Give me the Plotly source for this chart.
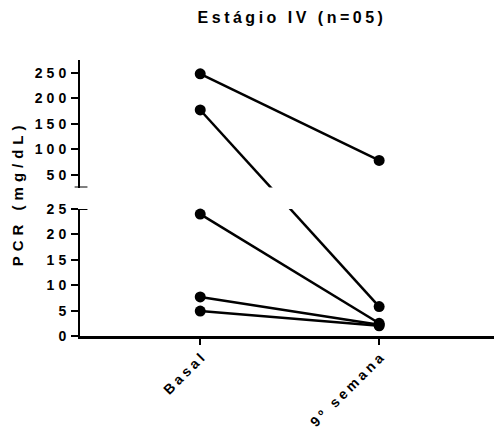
import plotly.graph_objects as go

# ---- data ----
categories = ["Basal", "9º semana"]
basal = [248, 177, 24, 7.7, 4.9]
semana9 = [78, 5.8, 2.5, 2.2, 2.0]
upper_ticks = [50, 100, 150, 200, 250]
lower_ticks = [0, 5, 10, 15, 20, 25]
title_text = "Estágio IV (n=05)"
ytitle_text = "PCR (mg/dL)"

# ---- axis geometry (broken y axis) ----
UPPER_DOMAIN = [0.538, 1.0]
UPPER_RANGE = [25, 275]
LOWER_DOMAIN = [0.0, 0.4601]
LOWER_RANGE = [0, 25]
AXES = {"upper": (UPPER_DOMAIN, UPPER_RANGE, "y"), "lower": (LOWER_DOMAIN, LOWER_RANGE, "y2")}


def to_frac(v, panel):
    d, r, _ = AXES[panel]
    return d[0] + (v - r[0]) / (r[1] - r[0]) * (d[1] - d[0])


def from_frac(f, panel):
    d, r, _ = AXES[panel]
    return r[0] + (f - d[0]) / (d[1] - d[0]) * (r[1] - r[0])


def panel_of(v):
    return "upper" if v > LOWER_RANGE[1] else "lower"


FONT = "Liberation Sans, Arial, Helvetica, sans-serif"
fig = go.Figure()

# lines (drawn in each panel, clipped by the panel area -> gap at the break)
for b, s in zip(basal, semana9):
    fb = to_frac(b, panel_of(b))
    fs = to_frac(s, panel_of(s))
    for panel in ("upper", "lower"):
        d, r, yref = AXES[panel]
        lo, hi = min(fb, fs), max(fb, fs)
        if hi < d[0] or lo > d[1]:
            continue
        fig.add_trace(go.Scatter(
            x=categories, y=[from_frac(fb, panel), from_frac(fs, panel)],
            mode="lines", line=dict(color="black", width=2.5),
            xaxis="x", yaxis=yref, showlegend=False, hoverinfo="skip"))

# markers
for panel in ("upper", "lower"):
    _, _, yref = AXES[panel]
    xs, ys = [], []
    for b, s in zip(basal, semana9):
        for cat, v in zip(categories, (b, s)):
            if panel_of(v) == panel:
                xs.append(cat)
                ys.append(v)
    fig.add_trace(go.Scatter(
        x=xs, y=ys, mode="markers", marker=dict(color="black", size=11),
        xaxis="x", yaxis=yref, showlegend=False, cliponaxis=False))

axis_common = dict(showline=True, linecolor="black", linewidth=2, ticks="outside",
                   tickcolor="black", tickwidth=2, showgrid=False, zeroline=False,
                   tickfont=dict(family=FONT, size=14, color="black", weight="bold"))

fig.update_layout(
    width=494, height=431,
    margin=dict(l=80, r=0, t=60, b=95),
    plot_bgcolor="white", paper_bgcolor="white",
    title=dict(text=title_text, x=292 / 494, y=1 - 17 / 431, xanchor="center", yanchor="middle",
               font=dict(family=FONT, size=16, color="black", weight="bold")),
    xaxis=dict(type="category", categoryarray=categories, range=[-0.672, 1.642],
               anchor="y2", domain=[0, 1], ticklen=6, tickangle=-45, linewidth=2.5,
               **{k: v for k, v in axis_common.items() if k != "linewidth"}),
    yaxis=dict(domain=UPPER_DOMAIN, range=UPPER_RANGE, tickvals=upper_ticks, anchor="x",
               ticklen=7, **axis_common),
    yaxis2=dict(domain=LOWER_DOMAIN, range=LOWER_RANGE, tickvals=lower_ticks, anchor="x",
                ticklen=7, **axis_common),
    annotations=[dict(text=ytitle_text, xref="paper", yref="paper", x=-0.151, y=0.517,
                      xanchor="center", yanchor="middle", textangle=-90, showarrow=False,
                      font=dict(family=FONT, size=15, color="black", weight="bold"))],
)

# break caps on the y axis
for yref, val in (("y", UPPER_RANGE[0]), ("y2", LOWER_RANGE[1])):
    fig.add_shape(type="line", xref="paper", yref=yref, x0=-0.013, x1=0.018, y0=val, y1=val,
                  line=dict(color="black", width=2))

post = """
var gd = document.getElementById('{plot_id}');
function applySpacing(){
  var rules = [['text.gtitle','3.5px',0],['text.annotation-text','5px',0],
               ['.ytick text','4px',2],['.y2tick text','4px',2],['.xtick text','3.5px',4]];
  rules.forEach(function(r){ gd.querySelectorAll(r[0]).forEach(function(el){
      el.style.letterSpacing = r[1];
      if (r[2]) { el.setAttribute('dx', r[2]); }
  }); });
}
applySpacing();
setTimeout(applySpacing, 0);
setTimeout(applySpacing, 100);
if (gd.on) { gd.on('plotly_afterplot', applySpacing); }
"""

fig.write_html("out.html", post_script=post)
